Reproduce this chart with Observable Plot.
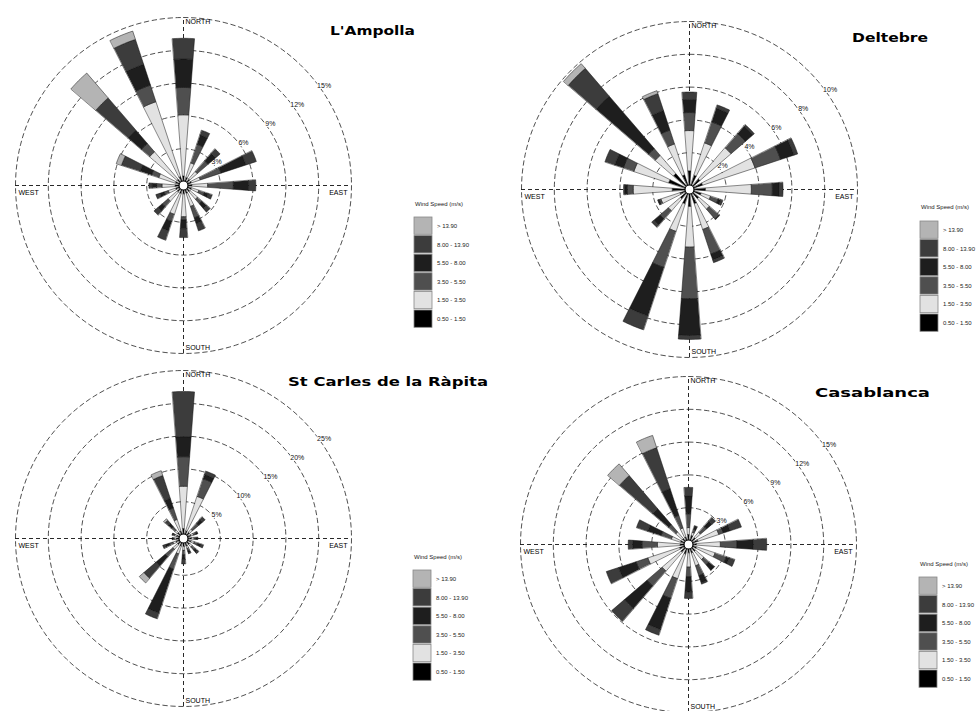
<!DOCTYPE html>
<html><head><meta charset="utf-8">
<script src="https://cdn.jsdelivr.net/npm/d3@7"></script>
<script src="https://cdn.jsdelivr.net/npm/@observablehq/plot@0.6"></script>
<style>
body{margin:0;background:#fff;overflow:hidden;}
#root{position:relative;width:976px;height:711px;overflow:hidden;background:#fff;}
#root svg{position:absolute;}
</style></head><body><div id="root"></div>
<script>
// ---------- data ----------
const directions = ["N","NNE","NE","ENE","E","ESE","SE","SSE","S","SSW","SW","WSW","W","WNW","NW","NNW"];
const speedClasses = ["0.50 - 1.50","1.50 - 3.50","3.50 - 5.50","5.50 - 8.00","8.00 - 13.90","> 13.90"];
const classColors = ["#000000","#e2e2e2","#4f4f4f","#1e1e1e","#3c3c3c","#b4b4b4"];
const compassLabels = ["NORTH","EAST","SOUTH","WEST"];

// L'Ampolla (% frequency per direction, per speed class)
const ampollaRings = [3,6,9,12,15];
const ampolla_c1 = [0.5,0.4,0.4,0.4,0.4,0.4,0.4,0.4,0.4,0.4,0.4,0.4,0.4,0.4,0.4,0.5];
const ampolla_c2 = [5.6,1.4,0.9,0.85,1.45,0.7,0.9,1.25,2.1,2.0,1.1,0.7,1.2,1.6,3.3,7.2];
const ampolla_c3 = [2.5,1.8,1.3,2.0,2.35,0.55,0.55,1.1,0.3,0.7,0.7,0.4,0.5,0.7,1.0,1.6];
const ampolla_c4 = [2.6,0.9,0.9,2.4,1.4,0.35,0.55,0.55,0.8,0.9,0.5,0.4,0.4,1.1,1.6,2.0];
const ampolla_c5 = [1.9,0.45,0.55,1.0,0.65,0.4,0.45,0.7,0.8,0.9,0.5,0.4,0.3,1.8,3.9,2.4];
const ampolla_c6 = [0,0,0,0,0,0,0,0,0,0,0,0,0,0.5,3.0,0.8];

// Deltebre
const deltebreRings = [2,4,6,8,10];
const deltebre_c1 = [0.9,0.67,0.6,0.6,0.73,0.5,0.49,0.67,0.79,0.67,0.49,0.37,0.81,1.09,1.04,0.7];
const deltebre_c2 = [2.45,2.07,2.5,3.36,2.8,0.6,0.85,1.65,2.48,1.77,0.97,1.22,2.38,2.23,1.46,1.98];
const deltebre_c3 = [1.1,1.35,1.15,1.64,1.28,0.5,0.79,1.58,3.15,2.32,0.67,0.12,0.36,0.68,0.55,0.89];
const deltebre_c4 = [0.8,0.88,0.6,0.86,0.42,0.15,0.05,0.37,2.24,3.11,0.49,0.06,0.14,0.55,4.21,1.25];
const deltebre_c5 = [0.45,0.21,0.12,0.24,0.23,0.15,0,0.18,0.24,0.89,0.18,0.03,0.09,0.63,2.24,1.09];
const deltebre_c6 = [0,0,0,0,0,0,0,0,0,0,0,0,0,0,0.38,0.19];

// St Carles de la Ràpita
const carlesRings = [5,10,15,20,25];
const carles_c1 = [0.9,0.6,0.6,0.6,0.6,0.6,0.6,0.6,0.6,0.6,0.6,0.6,0.5,0.5,0.6,0.6];
const carles_c2 = [6.46,5.53,0.6,0.4,0.4,0.5,0.5,0.4,0.6,1.24,0.93,0.5,0.3,0.3,0.5,1.85];
const carles_c3 = [4.5,2.84,1.25,0.4,0.3,0.6,0.6,0.4,0.7,2.46,1.54,0.6,0.2,0.25,0.7,1.85];
const carles_c4 = [3.04,0.69,0.75,0.2,0.2,0.5,0.45,0.3,0.7,7.05,1.83,0.6,0.08,0.12,0.6,1.53];
const carles_c5 = [6.9,0.54,0.55,0.1,0.1,0.4,0.3,0.15,0.67,0.92,2.46,0.43,0.04,0.06,0.67,3.67];
const carles_c6 = [0,0,0,0,0,0,0,0,0,0,0.92,0,0,0,0.3,0.77];

// Casablanca
const casaRings = [3,6,9,12,15];
const casa_c1 = [0.55,0.5,0.45,0.55,0.36,0.4,0.45,0.45,0.4,0.55,0.55,0.5,0.4,0.4,0.36,0.36];
const casa_c2 = [0.63,0.3,0.64,2.0,2.19,1.78,1.0,1.23,1.3,2.36,2.27,3.05,2.08,0.87,0.79,0.87];
const casa_c3 = [1.27,0.3,0.73,0.45,1.51,1.09,0.64,0.96,0.9,1.91,1.82,1.13,1.42,1.0,0.89,1.22];
const casa_c4 = [1.65,0.25,0.63,0.64,1.51,0.28,0.64,0.68,1.37,3.0,2.72,1.68,0.85,1.28,1.91,2.55];
const casa_c5 = [0.76,0.1,0.45,1.09,1.22,0.54,0.04,0.13,0.6,0.54,1.54,1.19,0.4,1.09,4.0,3.95];
const casa_c6 = [0,0,0,0,0,0,0,0,0,0,0,0,0,0,1.41,1.19];

const stations = [
  {name:"L'Ampolla", rings:ampollaRings, classes:[ampolla_c1,ampolla_c2,ampolla_c3,ampolla_c4,ampolla_c5,ampolla_c6]},
  {name:"Deltebre", rings:deltebreRings, classes:[deltebre_c1,deltebre_c2,deltebre_c3,deltebre_c4,deltebre_c5,deltebre_c6]},
  {name:"St Carles de la Ràpita", rings:carlesRings, classes:[carles_c1,carles_c2,carles_c3,carles_c4,carles_c5,carles_c6]},
  {name:"Casablanca", rings:casaRings, classes:[casa_c1,casa_c2,casa_c3,casa_c4,casa_c5,casa_c6]}
];

// ---------- layout (pixels) ----------
const layout = [
  {cx:183, cy:185, title:[330,34.5,85], legend:[414,205.5,217]},
  {cx:689, cy:189, title:[852,42,76], legend:[920,208.5,221]},
  {cx:183, cy:538, title:[288,385.5,200], legend:[413,558.5,570]},
  {cx:688, cy:544, title:[815,396.5,115], legend:[919,565.5,577]}
];
const HALF = 180, OUTER_PX = 168, HOLE_PX = 4, BAR_HALF_DEG = 4.3;
const rad = d => d * Math.PI / 180;

const root = document.getElementById("root");

stations.forEach((st, p) => {
  const L = layout[p];
  const outer = st.rings[st.rings.length - 1];
  const k = (OUTER_PX - HOLE_PX) / outer;      // px per percent
  const hole = HOLE_PX / k;
  const R = v => hole + v;
  const D = HALF / k;
  const rMax = R(outer);

  // wedge polygons
  const polys = [];
  directions.forEach((dir, i) => {
    const theta = i * 22.5;
    let cum = 0;
    st.classes.forEach((arr, c) => {
      const v = arr[i];
      if (!(v > 0)) return;
      const r0 = R(cum), r1 = R(cum + v);
      cum += v;
      const id = dir + "-" + c;
      const n = 8;
      for (let j = 0; j <= n; j++) {
        const a = rad(theta - BAR_HALF_DEG + 2 * BAR_HALF_DEG * j / n);
        polys.push({id, cls: speedClasses[c], x: r1 * Math.sin(a), y: r1 * Math.cos(a)});
      }
      for (let j = n; j >= 0; j--) {
        const a = rad(theta - BAR_HALF_DEG + 2 * BAR_HALF_DEG * j / n);
        polys.push({id, cls: speedClasses[c], x: r0 * Math.sin(a), y: r0 * Math.cos(a)});
      }
    });
  });

  // ring circles
  const ringPts = [];
  st.rings.forEach(v => {
    d3.range(0, 361, 2).forEach(b => ringPts.push({ring: v, x: R(v) * Math.sin(rad(b)), y: R(v) * Math.cos(rad(b))}));
  });
  const labelBearing = rad(55);

  const svg = Plot.plot({
    width: 2 * HALF, height: 2 * HALF, margin: 0,
    x: {domain: [-D, D], axis: null},
    y: {domain: [-D, D], axis: null},
    color: {type: "ordinal", domain: speedClasses, range: classColors},
    style: {background: "transparent", overflow: "visible", fontFamily: "'Liberation Sans', Arial, sans-serif", fontSize: "7px"},
    marks: [
      Plot.line(ringPts, {x: "x", y: "y", z: "ring", stroke: "#222", strokeWidth: 0.8, strokeDasharray: "4.5,3.5"}),
      Plot.ruleX([0], {y1: -rMax, y2: rMax, stroke: "#111", strokeWidth: 0.9, strokeDasharray: "4,3"}),
      Plot.ruleY([0], {x1: -rMax, x2: rMax, stroke: "#111", strokeWidth: 0.9, strokeDasharray: "4,3"}),
      Plot.text(st.rings, {x: v => R(v) * Math.sin(labelBearing), y: v => R(v) * Math.cos(labelBearing), text: v => v + "%", dx: 3, dy: -3, fill: "#111", stroke: "white", strokeWidth: 2, fontSize: 7}),
      Plot.line(polys, {x: "x", y: "y", z: "id", fill: "cls", stroke: "#111", strokeWidth: 0.5, curve: "linear-closed"}),
      Plot.dot([0], {x: () => 0, y: () => 0, r: 4.5, fill: "white", stroke: "#000", strokeWidth: 1.2}),
      Plot.text([compassLabels[0]], {x: () => 0, y: () => rMax, text: d => d, textAnchor: "start", dx: 2, dy: 4, fill: "#000", fontSize: 7}),
      Plot.text([compassLabels[2]], {x: () => 0, y: () => -rMax, text: d => d, textAnchor: "start", dx: 2, dy: -6, fill: "#000", fontSize: 7}),
      Plot.text([compassLabels[3]], {x: () => -rMax, y: () => 0, text: d => d, textAnchor: "start", dx: 3, dy: 7, fill: "#000", fontSize: 7}),
      Plot.text([compassLabels[1]], {x: () => rMax, y: () => 0, text: d => d, textAnchor: "end", dx: -4, dy: 7, fill: "#000", fontSize: 7})
    ]
  });
  svg.style.left = (L.cx - HALF) + "px";
  svg.style.top = (L.cy - HALF) + "px";
  svg.style.position = "absolute";
  root.appendChild(svg);
});

// ---------- titles & legends overlay ----------
const ov = d3.select(root).append("svg").attr("width", 976).attr("height", 711)
  .style("left", "0px").style("top", "0px").style("pointer-events", "none");

stations.forEach((st, p) => {
  const L = layout[p];
  ov.append("text").attr("x", L.title[0]).attr("y", L.title[1])
    .attr("textLength", L.title[2]).attr("lengthAdjust", "spacingAndGlyphs")
    .style("font-family", "'DejaVu Sans', sans-serif").style("font-weight", "bold").style("font-size", "12.5px")
    .text(st.name);

  const [lx, ty, by] = L.legend;
  const g = ov.append("g").style("font-family", "'Liberation Sans', Arial, sans-serif").style("font-size", "6px").style("fill", "#222");
  g.append("text").attr("x", lx + 1).attr("y", ty).text("Wind Speed (m/s)");
  const order = speedClasses.map((s, i) => i).reverse();
  order.forEach((ci, j) => {
    const y = by + j * 18.6;
    g.append("rect").attr("x", lx).attr("y", y).attr("width", 18).attr("height", 17.3)
      .attr("fill", classColors[ci]).attr("stroke", "#888").attr("stroke-width", 0.8);
    g.append("text").attr("x", lx + 23).attr("y", y + 11).text(speedClasses[ci]);
  });
});
</script></body></html>
